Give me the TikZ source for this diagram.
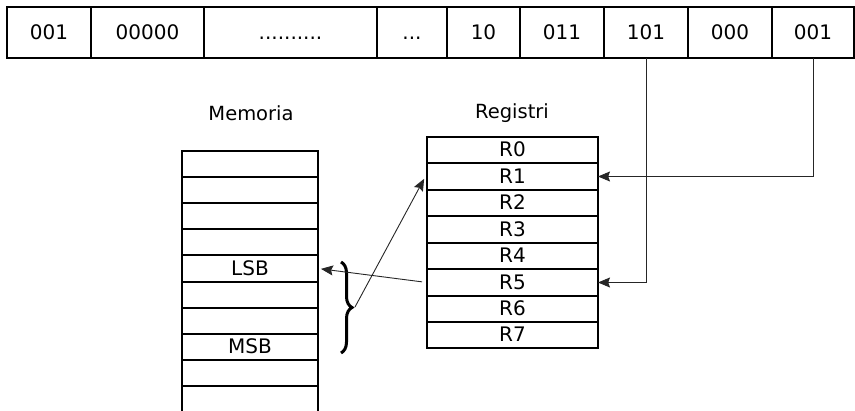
\documentclass[tikz,border=0pt]{standalone}
\usepackage{fontspec}
\setmainfont{DejaVu Sans}
\usetikzlibrary{arrows.meta,decorations.pathreplacing}
\begin{document}
\begin{tikzpicture}[x=1pt,y=-1pt,
  cell/.style={draw,line width=2pt,rectangle,anchor=north west,inner sep=0pt,outer sep=0pt,text height=14.5pt,text depth=0pt,font=\fontsize{20}{22}\selectfont},
  topcell/.style={cell,minimum height=51pt},
  regcell/.style={cell,minimum width=171pt,text height=14pt,font=\fontsize{20}{22}\selectfont},
  memcell/.style={cell,minimum width=136pt,text height=14pt,font=\fontsize{20}{22}\selectfont},
  conn/.style={line width=0.9pt,draw=black!85,-{Stealth[length=12pt,width=10pt,inset=1.8pt]}},
  lbl/.style={font=\fontsize{19.5}{22}\selectfont}]
\useasboundingbox (0,0) rectangle (855,411);
% top instruction row
\node[topcell,minimum width=84pt] (t1) at (7,7) {001};
\node[topcell,minimum width=113pt] (t2) at (91,7) {00000};
\node[topcell,minimum width=173pt] (t3) at (204,7) {..........};
\node[topcell,minimum width=70pt] (t4) at (377,7) {...};
\node[topcell,minimum width=73pt] (t5) at (447,7) {10};
\node[topcell,minimum width=84pt] (t6) at (520,7) {011};
\node[topcell,minimum width=84pt] (t7) at (604,7) {101};
\node[topcell,minimum width=84pt] (t8) at (688,7) {000};
\node[topcell,minimum width=82pt] (t9) at (772,7) {001};
% labels
\node[lbl] (memlbl) at (251,113) {Memoria};
\node[lbl] (reglbl) at (512,113) {Registri};
% registers
\foreach \i/\y/\h in {0/137/26,1/163/27,2/190/26,3/216/27,4/243/26,5/269/27,6/296/26,7/322/26}{
  \node[regcell,minimum height=\h pt] (r\i) at (427,\y) {R\i};
}
% memory
\foreach \i/\y/\h/\t in {1/151/26/,2/177/26/,3/203/26/,4/229/26/,5/255/27/LSB,6/282/26/,7/308/26/,8/334/26/MSB,9/360/26/}{
  \node[memcell,minimum height=\h pt] (m\i) at (182,\y) {\t};
}
\coordinate (mbl) at (182,412);
\coordinate (mbr) at (318,412);
\draw[line width=2pt] (m9.south west) -- (mbl);
\draw[line width=2pt] (m9.south east) -- (mbr);
% brace
\coordinate (btop) at (341,262);
\coordinate (bbot) at (341,353);
\draw[line width=3pt,decorate,decoration={brace,amplitude=11pt}] (btop) -- (bbot);
\coordinate (btip) at (355,307);
% connectors
\draw[conn] (t7.south) |- (r5.east);
\draw[conn] (t9.south) |- (r1.east);
\draw[conn,shorten <=5pt,shorten >=3pt] (r5.west) -- (m5.east);
\draw[conn,shorten >=6pt] (btip) -- ([yshift=3pt]r1.west);
\end{tikzpicture}
\end{document}
